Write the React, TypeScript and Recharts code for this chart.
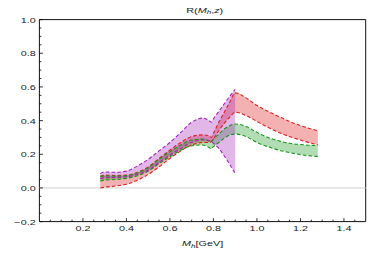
import React from 'react';
import { ComposedChart, Area, Line, XAxis, YAxis, ReferenceLine, ReferenceArea, Customized } from 'recharts';

const xs = [0.28,0.30,0.35,0.40,0.45,0.50,0.55,0.60,0.65,0.70,0.75,0.78,0.79,0.80,0.825,0.85,0.875,0.90,0.95,1.00,1.05,1.10,1.15,1.20,1.25,1.28];

const redHi = [0.070,0.076,0.074,0.076,0.092,0.125,0.175,0.225,0.270,0.305,0.315,0.310,0.300,0.325,0.390,0.450,0.510,0.565,0.535,0.490,0.455,0.425,0.395,0.370,0.350,0.340];
const redLo = [0.000,0.004,0.012,0.022,0.045,0.080,0.125,0.175,0.220,0.255,0.270,0.270,0.275,0.290,0.340,0.385,0.420,0.450,0.430,0.395,0.360,0.330,0.305,0.285,0.265,0.257];

const greenHi = [0.068,0.072,0.070,0.073,0.090,0.120,0.170,0.215,0.255,0.285,0.290,0.280,0.275,0.290,0.320,0.350,0.370,0.380,0.365,0.330,0.300,0.280,0.265,0.258,0.253,0.252];
const greenLo = [0.040,0.047,0.050,0.057,0.072,0.100,0.145,0.185,0.225,0.250,0.255,0.240,0.232,0.245,0.270,0.295,0.315,0.320,0.305,0.270,0.245,0.225,0.210,0.198,0.190,0.187];

const purpleHi = [0.085,0.095,0.093,0.100,0.130,0.170,0.220,0.270,0.330,0.390,0.415,0.400,0.390,0.410,0.455,0.500,0.545,0.585];
const purpleLo = [0.055,0.060,0.062,0.066,0.080,0.105,0.150,0.195,0.235,0.270,0.285,0.280,0.275,0.265,0.235,0.190,0.140,0.085];

const xTicks = [0.05,0.1,0.15,0.2,0.25,0.3,0.35,0.4,0.45,0.5,0.55,0.6,0.65,0.7,0.75,0.8,0.85,0.9,0.95,1.0,1.05,1.1,1.15,1.2,1.25,1.3,1.35,1.4,1.45];
const yTicks = [-0.15,-0.1,-0.05,0,0.05,0.1,0.15,0.2,0.25,0.3,0.35,0.4,0.45,0.5,0.55,0.6,0.65,0.7,0.75,0.8,0.85,0.9,0.95,1.0,-0.2];

const data = xs.map((x, i) => ({
  x,
  red: [redLo[i], redHi[i]],
  redHi: redHi[i],
  redLo: redLo[i],
  green: [greenLo[i], greenHi[i]],
  greenHi: greenHi[i],
  greenLo: greenLo[i],
  purple: i < purpleHi.length ? [purpleLo[i], purpleHi[i]] : null,
  purpleHi: i < purpleHi.length ? purpleHi[i] : null,
  purpleLo: i < purpleLo.length ? purpleLo[i] : null,
}));

const FONT = 'Liberation Sans, Arial, sans-serif';
const SX = 1.35;

const isMajor = (v: number) => Math.abs(v / 0.2 - Math.round(v / 0.2)) < 1e-6;
const fmt = (v: number) => v.toFixed(1).replace('-', '\u2212');

const XTick = (props: any) => {
  const { x, y, payload } = props;
  const v = payload.value;
  const major = isMajor(v);
  return (
    <g>
      <line x1={x} x2={x} y1={y} y2={y - (major ? 3.5 : 2)} stroke="#000" strokeWidth={0.8} />
      {major && v > 0 && (
        <text transform={`translate(${x},${y + 9.8}) scale(${SX},1)`} textAnchor="middle" fontSize={8} fontFamily={FONT} fill="#222">
          {fmt(v)}
        </text>
      )}
    </g>
  );
};

const YTick = (props: any) => {
  const { x, y, payload } = props;
  const v = payload.value;
  const major = isMajor(v);
  return (
    <g>
      <line x1={x} x2={x + (major ? 3.5 : 2)} y1={y} y2={y} stroke="#000" strokeWidth={0.8} />
      {major && (
        <text transform={`translate(${x - 3.7},${y + 2.9}) scale(${SX},1)`} textAnchor="end" fontSize={8} fontFamily={FONT} fill="#222">
          {fmt(v)}
        </text>
      )}
    </g>
  );
};

const Titles = () => (
  <g>
    <text transform={`translate(204.7,12.6) scale(${SX},1)`} textAnchor="middle" fontSize={8} fontFamily={FONT} fill="#222">
      R(<tspan fontStyle="italic">M</tspan><tspan fontStyle="italic" fontSize={6} dy={1.8}>h</tspan><tspan dy={-1.8}>,</tspan><tspan fontStyle="italic">z</tspan>)
    </text>
    <text transform={`translate(202.6,245.8) scale(${SX},1)`} textAnchor="middle" fontSize={8} fontFamily={FONT} fill="#222">
      <tspan fontStyle="italic">M</tspan><tspan fontStyle="italic" fontSize={6} dy={1.8}>h</tspan><tspan dy={-1.8}>[GeV]</tspan>
    </text>
  </g>
);

const RED = '#dc1f1f';
const GREEN = '#16951a';
const PURPLE = '#a424b8';
const DASH = '3.6 2.2';

export default function App() {
  return (
    <div style={{ position: 'absolute', left: 0, top: 0, width: 382, height: 254, background: '#fff' }}>
      <ComposedChart width={382} height={254} data={data} margin={{ top: 19.6, right: 16.3, bottom: 12.4, left: 0 }}>
        <XAxis
          type="number"
          dataKey="x"
          domain={[0, 1.5]}
          ticks={xTicks}
          interval={0}
          tick={<XTick />}
          tickLine={false}
          tickSize={0}
          tickMargin={0}
          axisLine={false}
          height={20}
          allowDataOverflow
        />
        <YAxis
          type="number"
          domain={[-0.2, 1.0]}
          ticks={yTicks}
          interval={0}
          tick={<YTick />}
          tickLine={false}
          tickSize={0}
          tickMargin={0}
          axisLine={false}
          width={39.4}
          allowDataOverflow
        />
        <ReferenceLine y={0} stroke="#cfcfcf" strokeWidth={1} />
        <Area type="monotone" dataKey="red" stroke="none" fill={RED} fillOpacity={0.35} isAnimationActive={false} />
        <Area type="monotone" dataKey="green" stroke="none" fill={GREEN} fillOpacity={0.33} isAnimationActive={false} />
        <Area type="monotone" dataKey="purple" stroke="none" fill={PURPLE} fillOpacity={0.33} isAnimationActive={false} />
        <Line type="monotone" dataKey="redHi" stroke={RED} strokeWidth={1.1} strokeDasharray={DASH} dot={false} isAnimationActive={false} />
        <Line type="monotone" dataKey="redLo" stroke={RED} strokeWidth={1.1} strokeDasharray={DASH} dot={false} isAnimationActive={false} />
        <Line type="monotone" dataKey="greenHi" stroke={GREEN} strokeWidth={1.1} strokeDasharray={DASH} dot={false} isAnimationActive={false} />
        <Line type="monotone" dataKey="greenLo" stroke={GREEN} strokeWidth={1.1} strokeDasharray={DASH} dot={false} isAnimationActive={false} />
        <Line type="monotone" dataKey="purpleHi" stroke={PURPLE} strokeWidth={1.1} strokeDasharray={DASH} dot={false} isAnimationActive={false} />
        <Line type="monotone" dataKey="purpleLo" stroke={PURPLE} strokeWidth={1.1} strokeDasharray={DASH} dot={false} isAnimationActive={false} />
        <ReferenceArea x1={0} x2={1.5} y1={-0.2} y2={1.0} fill="none" fillOpacity={0} stroke="#111" strokeWidth={1} ifOverflow="visible" />
        <Customized component={Titles} />
      </ComposedChart>
    </div>
  );
}
